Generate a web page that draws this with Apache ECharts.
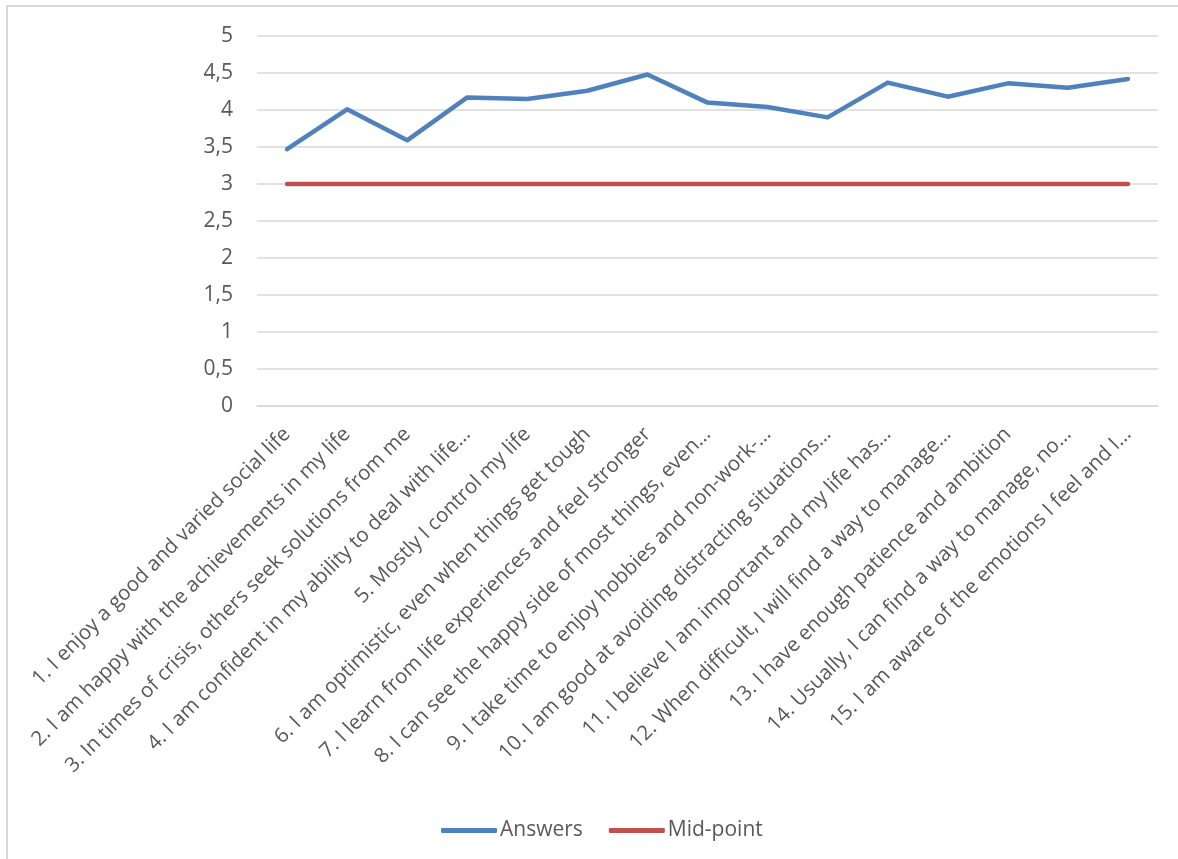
<!DOCTYPE html>
<html>
<head>
<meta charset="utf-8">
<title>Answers vs mid-point</title>
<script src="https://cdn.jsdelivr.net/npm/echarts@6/dist/echarts.min.js"></script>
<style>
  html, body { margin: 0; padding: 0; background: #fff; }
  #chart { width: 1178px; height: 859px; }
</style>
</head>
<body>
<div id="chart"></div>
<script>
// statements (already shortened the way the source chart shows them)
const categories = [
  '1. I enjoy a good and varied social life',
  '2. I am happy with the achievements in my life',
  '3. In times of crisis, others seek solutions from me',
  '4. I am confident in my ability to deal with life…',
  '5. Mostly I control my life',
  '6. I am optimistic, even when things get tough',
  '7. I learn from life experiences and feel stronger',
  '8. I can see the happy side of most things, even…',
  '9. I take time to enjoy hobbies and non-work-…',
  '10. I am good at avoiding distracting situations…',
  '11. I believe I am important and my life has…',
  '12. When difficult, I will find a way to manage…',
  '13. I have enough patience and ambition',
  '14. Usually, I can find a way to manage, no…',
  '15. I am aware of the emotions I feel and I…'
]
const answers = [3.47, 4.01, 3.59, 4.17, 4.15, 4.26, 4.48, 4.10, 4.04, 3.90, 4.37, 4.18, 4.36, 4.30, 4.42]
const midPoint = [3, 3, 3, 3, 3, 3, 3, 3, 3, 3, 3, 3, 3, 3, 3]

const textColor = '#595959'
const gridColor = '#d9d9d9'
const font = '"Open Sans", "Liberation Sans", sans-serif'

const chart = echarts.init(document.getElementById('chart'))
const option = {
  animation: false,
  textStyle: { fontFamily: font },
  graphic: [
    { // chart area border
      type: 'rect',
      shape: { x: 7, y: 6, width: 1250, height: 950 },
      style: { fill: 'none', stroke: gridColor, lineWidth: 2 },
      silent: true
    }
  ],
  grid: { left: 257, right: 20, top: 36, bottom: 453, containLabel: false },
  xAxis: {
    type: 'category',
    data: categories,
    boundaryGap: true,
    axisLine: { lineStyle: { color: gridColor, width: 1.5 } },
    axisTick: { show: false },
    axisLabel: {
      interval: 0,
      rotate: 45,
      margin: 25,
      color: textColor,
      fontSize: 20.5,
      fontFamily: font
    }
  },
  yAxis: {
    type: 'value',
    min: 0,
    max: 5,
    interval: 0.5,
    axisLine: { show: false },
    axisTick: { show: false },
    splitLine: { lineStyle: { color: gridColor, width: 1.5 } },
    axisLabel: {
      margin: 24,
      color: textColor,
      fontSize: 21,
      fontFamily: font,
      formatter: function(v) {
        return String(v).replace('.', ',') // decimal comma as in the source
      }
    }
  },
  legend: {
    top: 815,
    left: 436,
    itemWidth: 56,
    itemHeight: 5,
    itemGap: 26,
    icon: 'roundRect',
    textStyle: { color: textColor, fontSize: 21, fontFamily: font, padding: [0, 0, 0, -2] },
    data: ['Answers', 'Mid-point']
  },
  series: [
    {
      name: 'Answers',
      type: 'line',
      data: answers,
      symbol: 'none',
      lineStyle: { color: '#4f81bd', width: 4.5, cap: 'round', join: 'round' },
      itemStyle: { color: '#4f81bd' }
    },
    {
      name: 'Mid-point',
      type: 'line',
      data: midPoint,
      symbol: 'none',
      lineStyle: { color: '#c0504d', width: 4.5, cap: 'round' },
      itemStyle: { color: '#c0504d' }
    }
  ]
}
chart.setOption(option)
</script>
</body>
</html>
